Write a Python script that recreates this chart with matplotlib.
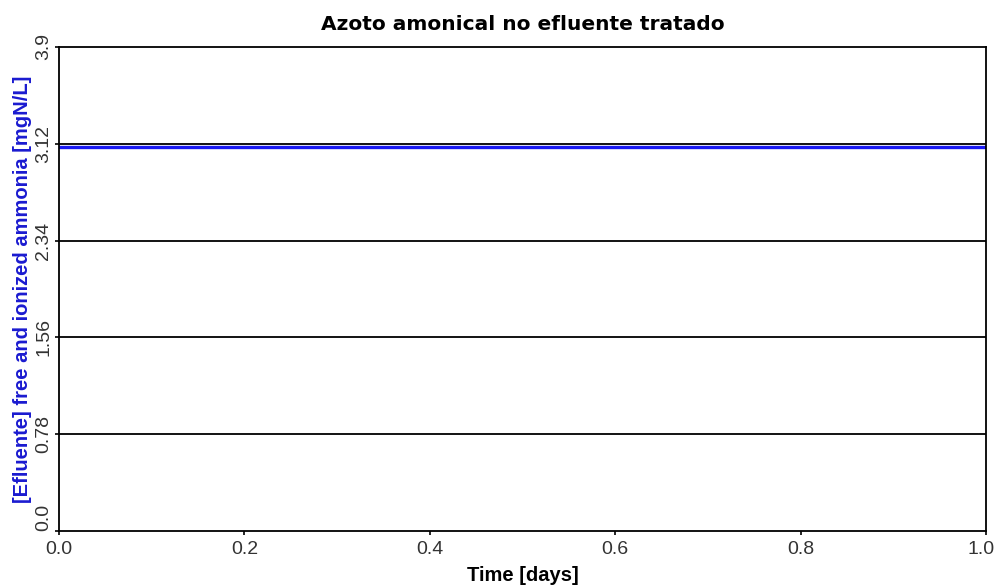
import numpy as np
import matplotlib
matplotlib.use('Agg')
import matplotlib.pyplot as plt
import matplotlib.transforms as mtransforms

plt.rcParams['font.family'] = ['Liberation Sans', 'DejaVu Sans']

# dados
tempo = [0.0, 0.25, 0.5, 0.75, 1.0]
amonia = [3.095, 3.095, 3.095, 3.095, 3.095]
yticks = [0.0, 0.78, 1.56, 2.34, 3.12, 3.9]
xticks = [0.0, 0.2, 0.4, 0.6, 0.8, 1.0]

fig = plt.figure(figsize=(9.97, 5.86), dpi=100)
ax = fig.add_axes([59/997, 1 - 531/586, (986-59)/997, (531-47)/586])

for v in yticks[1:-1]:
    ax.axhline(v, color='black', lw=1.3, zorder=1)
ax.plot(tempo, amonia, color='#1a1af5', lw=2.4, zorder=2)

ax.set_xlim(0, 1)
ax.set_ylim(0, 3.9)
ax.set_xticks(xticks)
xlab = ax.set_xticklabels(['%.1f' % t for t in xticks], fontsize=14, color='#333333')
ax.set_yticks(yticks)
ylab = ax.set_yticklabels(['0.0', '0.78', '1.56', '2.34', '3.12', '3.9'],
                          fontsize=14, rotation=90, va='center', color='#333333')
ylab[0].set_va('bottom')
ax.tick_params(direction='out', length=3, width=1.2, pad=2)
ax.tick_params(axis='x', pad=4)
for s in ax.spines.values():
    s.set_linewidth(1.3)

# ultimo rotulo do eixo x encostado na borda
xlab[-1].set_ha('right')
xlab[-1].set_transform(xlab[-1].get_transform() +
                       mtransforms.ScaledTranslation(9/100, 0, fig.dpi_scale_trans))

ax.set_title('Azoto amonical no efluente tratado', fontsize=14.5,
             fontweight='bold', family='DejaVu Sans', pad=12)
ax.set_xlabel('Time [days]', fontsize=14.5, fontweight='bold', labelpad=6)
ax.set_ylabel('[Efluente] free and ionized ammonia [mgN/L]', fontsize=14.5,
              fontweight='bold', color='#1a1ad0', labelpad=2)

fig.savefig('out.png', dpi=100)
